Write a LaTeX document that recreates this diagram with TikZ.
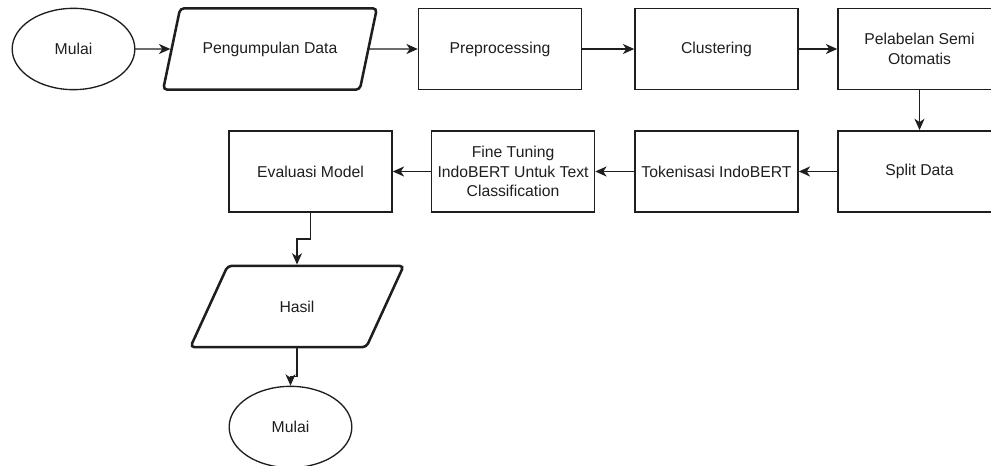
\documentclass[tikz,border=0pt]{standalone}
\usepackage{fontspec}
\setmainfont{Liberation Sans}
\usetikzlibrary{shapes.geometric, arrows.meta}
\definecolor{ink}{RGB}{30, 30, 30}
\def\boxw{122.25pt}
\def\boxh{61pt}
\def\datw{160.5pt}
\def\ovlw{92pt}

\begin{document}
\begin{tikzpicture}[x=0.75pt, y=-0.75pt, line cap=round,
    font=\fontsize{11.8}{14.6}\selectfont, text=ink,
    process/.style={draw=ink, line width=1.1pt, minimum width=\boxw,
        minimum height=\boxh, align=center, inner sep=1pt},
    data/.style={trapezium, trapezium stretches=true,
        trapezium left angle=60, trapezium right angle=120, draw=ink,
        line width=1.9pt, rounded corners=3pt, minimum width=\datw,
        minimum height=\boxh},
    terminal/.style={ellipse, draw=ink, line width=1pt,
        minimum width=\ovlw, minimum height=\boxh},
    flow/.style={draw=ink, line width=1.1pt,
        -{Stealth[length=8.5pt, width=7.5pt, inset=2.5pt]}}]

                 \useasboundingbox (0, 0) rectangle (991, 466);

                 \node[terminal] (start) at (73.5, 49) {Mulai};
                 \node[data] (collect) at (270, 49) {Pengumpulan Data};
                 \node[process] (prep) at (500, 49) {Preprocessing};
                 \node[process] (clust) at (716.5, 49) {Clustering};
                 \node[process] (label) at (919.5, 49) {Pelabelan Semi\\Otomatis};

                 \node[process] (split) at (919.5, 171.5) {Split Data};
                 \node[process] (token) at (716.5, 171.5) {Tokenisasi IndoBERT};
                 \node[process] (tune) at (513, 171.5)
                     {Fine Tuning\\IndoBERT Untuk Text\\Classification};
                 \node[process] (eval) at (310.5, 171.5) {Evaluasi Model};

                 \node[data] (result) at (297, 306.5) {Hasil};
                 \node[terminal] (finish) at (290.5, 427) {Mulai};

                 \draw[flow] (start) -- (collect);
                 \draw[flow] (collect) -- (prep);
                 \draw[flow] (prep) -- (clust);
                 \draw[flow] (clust) -- (label);
                 \draw[flow] (label) -- (split);
                 \draw[flow] (split) -- (token);
                 \draw[flow] (token) -- (tune);
                 \draw[flow] (tune) -- (eval);
                 \draw[flow] (eval.south) -- ++(0, 26) -| (result.north);
                 \draw[flow] (result.south) -- ++(0, 28) -| (finish.north);

             \end{tikzpicture}
\end{document}
